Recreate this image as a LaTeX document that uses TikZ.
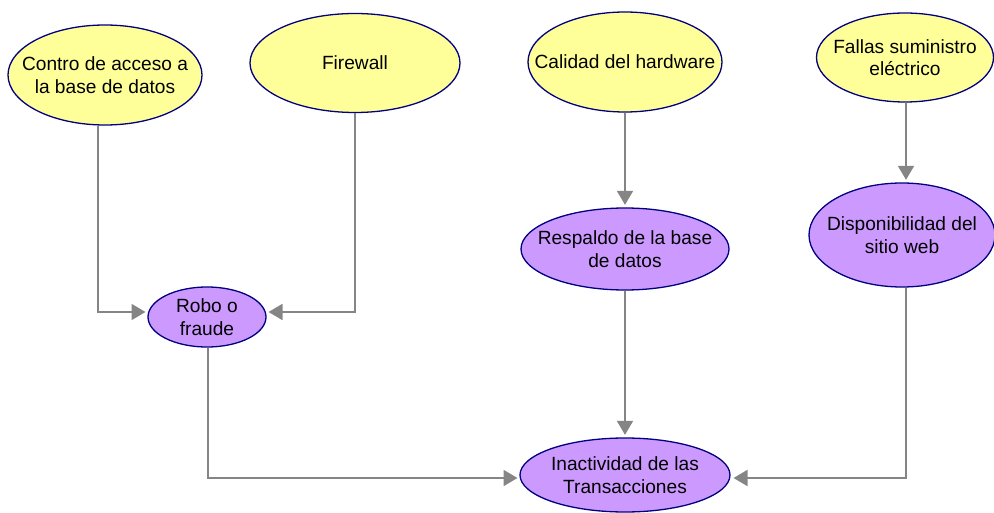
\documentclass[tikz,border=0pt]{standalone}
\usepackage{fontspec}
\setmainfont{Liberation Sans}
\usetikzlibrary{shapes.geometric,arrows.meta}
\definecolor{yel}{HTML}{FFFF99}
\definecolor{pur}{HTML}{CC99FF}
\definecolor{navy}{HTML}{000080}
\definecolor{lgray}{HTML}{858585}
\begin{document}
\begin{tikzpicture}[x=1bp,y=-1bp,
  bub/.style={ellipse,draw=navy,line width=1.3bp,inner sep=0pt},
  ybub/.style={bub,fill=yel},
  pbub/.style={bub,fill=pur},
  lbl/.style={inner sep=0pt,align=center,font=\fontsize{19.2}{22.5}\selectfont},
  conn/.style={draw=lgray,line width=1.8bp,-{Triangle[length=14bp,width=16bp]},shorten >=2.5bp}]
\useasboundingbox (0,0) rectangle (994,513);
\node[ybub,minimum width=194bp,minimum height=100bp] (contro) at (105,75) {};
\node[ybub,minimum width=210bp,minimum height=99bp] (fire) at (355,63) {};
\node[ybub,minimum width=194bp,minimum height=100bp] (cal) at (625,62) {};
\node[ybub,minimum width=177bp,minimum height=89bp] (fallas) at (905,57.5) {};
\node[pbub,minimum width=208bp,minimum height=82bp] (resp) at (625,249) {};
\node[pbub,minimum width=186bp,minimum height=104bp] (disp) at (902,235) {};
\node[pbub,minimum width=118bp,minimum height=60bp] (robo) at (207,317) {};
\node[pbub,minimum width=210bp,minimum height=74bp] (inac) at (625,475) {};
\node[lbl] (controT) at (contro.center) {Contro de acceso a\\la base de datos};
\node[lbl] (fireT) at (fire.center) {Firewall};
\node[lbl] (calT) at (cal.center) {Calidad del hardware};
\node[lbl] (fallasT) at (fallas.center) {Fallas suministro\\eléctrico};
\node[lbl] (respT) at (resp.center) {Respaldo de la base\\de datos};
\node[lbl] (dispT) at (disp.center) {Disponibilidad del\\sitio web};
\node[lbl] (roboT) at (robo.center) {Robo o\\fraude};
\node[lbl] (inacT) at (inac.center) {Inactividad de las\\Transacciones};
\coordinate (roboL) at (148,312);
\coordinate (roboR) at (266,312);
\coordinate (inacL) at (520,478);
\coordinate (inacR) at (731,478);
\draw[conn] ([xshift=-7bp]contro.south) |- (roboL);
\draw[conn] (fire.south) |- (roboR);
\draw[conn] ([xshift=1bp]robo.south) |- (inacL);
\draw[conn] (cal.south) -- (resp.north);
\draw[conn] (resp.south) -- (inac.north);
\draw[conn] ([xshift=1bp]fallas.south) -- ([xshift=4bp]disp.north);
\draw[conn] ([xshift=4bp]disp.south) |- (inacR);
\end{tikzpicture}
\end{document}
